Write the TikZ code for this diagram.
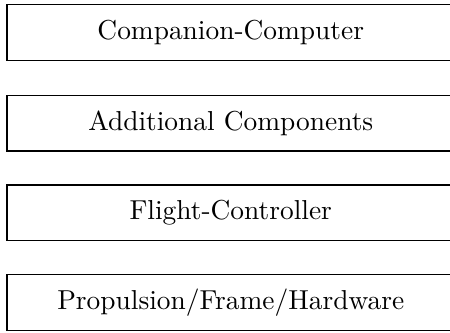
\documentclass[tikz,border=0pt]{standalone}
\begin{document}
\begin{tikzpicture}[x=1pt,y=1pt,
  layer/.style={draw, line width=0.4pt, minimum width=163.3pt, minimum height=20.4pt, inner sep=0pt, anchor=center}]
  \useasboundingbox (0,0) rectangle (164.2,-121.2);
  \node[layer] (cc) at (84.2,-12.0) {Companion-Computer};
  \node[layer] (ac) at (84.2,-44.9) {Additional Components};
  \node[layer] (fc) at (84.2,-77.7) {Flight-Controller};
  \node[layer] (pf) at (84.2,-110.3) {Propulsion/Frame/Hardware};
\end{tikzpicture}
\end{document}
